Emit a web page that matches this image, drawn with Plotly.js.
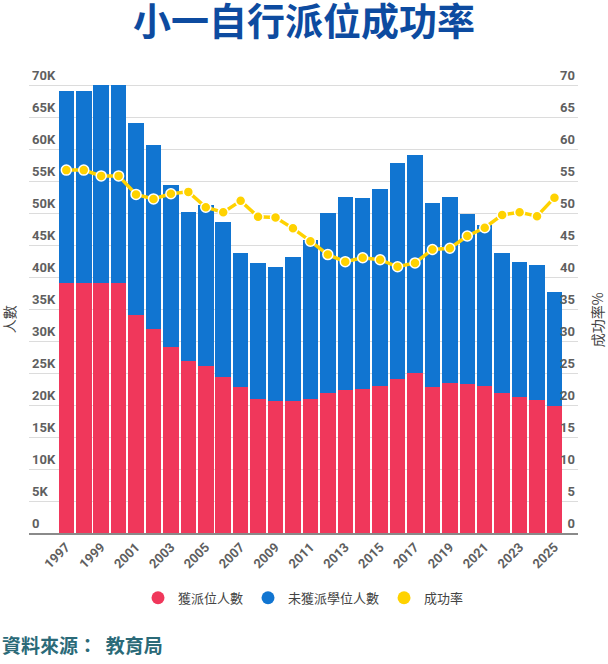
<!DOCTYPE html>
<html>
<head>
<meta charset="utf-8">
<script src="https://cdn.plot.ly/plotly-3.0.1.min.js"></script>
<style>
  html, body { margin: 0; padding: 0; background: #fff; }
  #chart { width: 608px; height: 664px; }
</style>
</head>
<body>
<div id="chart"></div>
<script>
// Primary One Discretionary Places admission, 1997-2025
const years = [1997, 1998, 1999, 2000, 2001, 2002, 2003, 2004, 2005, 2006,
               2007, 2008, 2009, 2010, 2011, 2012, 2013, 2014, 2015, 2016,
               2017, 2018, 2019, 2020, 2021, 2022, 2023, 2024, 2025];

// total applicants (thousands)
const applicants = [69.0, 69.0, 70.0, 70.0, 64.1, 60.6, 54.4, 50.2, 51.2, 48.6,
                    43.8, 42.2, 41.6, 43.1, 45.8, 50.0, 52.5, 52.3, 53.8, 57.8,
                    59.1, 51.6, 52.5, 49.8, 48.1, 43.8, 42.3, 41.9, 37.6];

// applicants who were allocated a place (thousands)
const allocated = [39.1, 39.1, 39.1, 39.1, 34.0, 31.8, 29.0, 26.8, 26.1, 24.4,
                   22.8, 20.9, 20.6, 20.6, 20.9, 21.8, 22.4, 22.5, 23.0, 24.1,
                   25.0, 22.8, 23.4, 23.3, 23.0, 21.9, 21.2, 20.8, 19.9];

// success rate (%)
const successRate = [56.7, 56.7, 55.8, 55.8, 52.9, 52.2, 53.0, 53.3, 50.9, 50.1,
                     51.9, 49.4, 49.3, 47.6, 45.6, 43.5, 42.4, 43.0, 42.7, 41.6,
                     42.2, 44.3, 44.5, 46.4, 47.7, 49.7, 50.1, 49.5, 52.4];

// those without a place = applicants - allocated
const notAllocated = applicants.map((t, i) => +(t - allocated[i]).toFixed(1));

const yTickVals = [0, 5, 10, 15, 20, 25, 30, 35, 40, 45, 50, 55, 60, 65, 70];
const yTickText = yTickVals.map(v => v === 0 ? '0' : v + 'K');
const y2TickText = yTickVals.map(v => String(v));
const xTickVals = years.filter(y => y % 2 === 1);

const RED = '#F0375B';
const BLUE = '#1175D1';
const YELLOW = '#FFD200';
const CJK = '"Noto Sans CJK TC", "Noto Sans", sans-serif';
const TICKFONT = { family: 'Roboto, "Noto Sans", sans-serif', size: 13, color: '#5f5f5f', weight: 'bold' };

// headroom above the 70 gridline so its label stays visible
const Y_RANGE = [0, 75];

const traces = [
  {
    type: 'bar', name: '獲派位人數', x: years, y: allocated,
    marker: { color: RED }, showlegend: false, hoverinfo: 'x+y+name'
  },
  {
    type: 'bar', name: '未獲派學位人數', x: years, y: notAllocated,
    marker: { color: BLUE }, showlegend: false, hoverinfo: 'x+y+name'
  },
  {
    type: 'scatter', mode: 'lines+markers', name: '成功率', x: years, y: successRate,
    yaxis: 'y2',
    line: { color: YELLOW, width: 3.5 },
    marker: { color: YELLOW, size: 10, line: { color: '#fff', width: 1.5 } },
    showlegend: false
  },
  // legend entries (round swatches)
  { type: 'scatter', mode: 'markers', name: '獲派位人數', x: [null], y: [null],
    marker: { color: RED, size: 13 } },
  { type: 'scatter', mode: 'markers', name: '未獲派學位人數', x: [null], y: [null],
    marker: { color: BLUE, size: 13 } },
  { type: 'scatter', mode: 'markers', name: '成功率', x: [null], y: [null],
    marker: { color: YELLOW, size: 13 } }
];

const layout = {
  width: 608, height: 664,
  margin: { l: 29, r: 30, t: 53, b: 131 },
  paper_bgcolor: '#fff', plot_bgcolor: '#fff',
  barmode: 'stack', bargap: 0.11,
  title: {
    text: '小一自行派位成功率',
    x: 0.5, xanchor: 'center', y: 0.967, yanchor: 'middle',
    font: { family: CJK, size: 38, color: '#0D4BA0', weight: 'bold' }
  },
  xaxis: {
    type: 'linear', range: [1994.86, 2026.35],
    tickvals: xTickVals, ticktext: xTickVals.map(String),
    tickangle: -45, tickfont: TICKFONT,
    showgrid: false, zeroline: false,
    showline: true, linecolor: '#8a8a8a', linewidth: 1.5,
    ticks: '', fixedrange: true
  },
  yaxis: {
    range: Y_RANGE, tickvals: yTickVals, ticktext: yTickText,
    ticklabelposition: 'inside top', tickfont: TICKFONT,
    showgrid: true, gridcolor: '#dcdcdc', gridwidth: 1,
    zeroline: false, showline: false, ticks: '', fixedrange: true
  },
  yaxis2: {
    overlaying: 'y', side: 'right',
    range: Y_RANGE, tickvals: yTickVals, ticktext: y2TickText,
    ticklabelposition: 'inside top', tickfont: TICKFONT,
    showgrid: false, zeroline: false, showline: false, ticks: '', fixedrange: true
  },
  legend: {
    orientation: 'h', traceorder: 'normal',
    x: 0.5, xanchor: 'center', y: -0.135, yanchor: 'middle',
    font: { family: CJK, size: 13, color: '#444' },
    itemwidth: 30, bgcolor: 'rgba(0,0,0,0)'
  },
  annotations: [
    { text: '人數', xref: 'paper', yref: 'paper', x: -0.035, y: 0.445,
      textangle: -90, showarrow: false, xanchor: 'center', yanchor: 'middle',
      font: { family: CJK, size: 14, color: '#444' } },
    { text: '成功率%', xref: 'paper', yref: 'paper', x: 1.036, y: 0.445,
      textangle: -90, showarrow: false, xanchor: 'center', yanchor: 'middle',
      font: { family: CJK, size: 14, color: '#444' } },
    { text: '資料來源：  教育局', xref: 'paper', yref: 'paper', x: -0.0528, y: -0.233,
      showarrow: false, xanchor: 'left', yanchor: 'middle',
      font: { family: CJK, size: 19, color: '#2B6A78', weight: 'bold' } }
  ]
};

Plotly.newPlot('chart', traces, layout, { displayModeBar: false, staticPlot: true });
</script>
</body>
</html>
